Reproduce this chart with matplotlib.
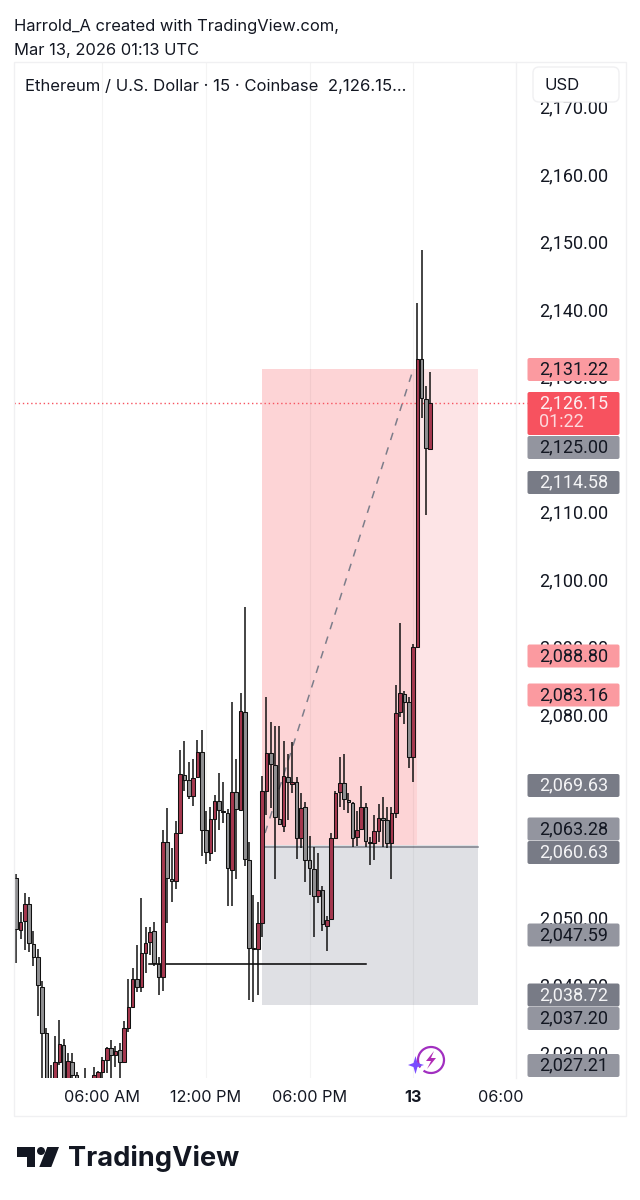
import matplotlib
matplotlib.use('Agg')
import matplotlib.pyplot as plt
from matplotlib.patches import Rectangle, FancyBboxPatch, Circle, Polygon, Arc

plt.rcParams['font.family'] = ['Inter', 'DejaVu Sans']

# bar numbers count 15 min candles back from the 00:00 candle of the 13th
first_bar = -92

opens = [2055.78, 2048.08, 2049.4, 2051.9, 2046.0, 2044.1, 2039.65, 2032.85, 2022.0, 2024.5,
         2028.54, 2031.06, 2024.7, 2028.54, 2026.6, 2025.5, 2024.5, 2025.5, 2025.5, 2026.0,
         2027.06, 2028.84, 2030.6, 2029.58, 2030.3, 2028.54, 2033.58, 2036.7, 2040.8, 2039.65,
         2044.68, 2046.3, 2047.93, 2043.05, 2041.1, 2061.1, 2055.63, 2055.34, 2062.44, 2071.03,
         2070.3, 2067.92, 2070.73, 2074.43, 2062.9, 2059.5, 2064.5, 2067.2, 2065.7, 2065.4,
         2056.96, 2068.5, 2065.85, 2080.35, 2058.45, 2045.42, 2045.3, 2049.12, 2068.66, 2074.28,
         2072.5, 2064.5, 2063.5, 2070.73, 2069.7, 2070.0, 2061.7, 2066.3, 2058.45, 2057.1,
         2053.1, 2054.0, 2048.67, 2049.7, 2061.7, 2068.5, 2069.84, 2067.33, 2066.9, 2061.85,
         2063.03, 2066.3, 2061.1, 2060.96, 2062.74, 2064.66, 2064.36, 2060.96, 2065.4, 2080.35,
         2083.0, 2081.84, 2073.7, 2090.0, 2132.6, 2126.7, 2119.3]
highs = [2056.37, 2050.75, 2053.56, 2052.97, 2047.9, 2045.3, 2040.5, 2033.6, 2028.1, 2032.4,
         2034.76, 2031.95, 2029.9, 2029.9, 2027.06, 2025.8, 2027.65, 2026.0, 2027.8, 2027.2,
         2029.28, 2030.76, 2031.8, 2030.9, 2031.35, 2034.6, 2040.8, 2042.46, 2045.86, 2052.8,
         2048.5, 2048.5, 2049.27, 2044.08, 2062.9, 2066.14, 2060.2, 2064.2, 2074.73, 2076.06,
         2072.95, 2073.4, 2076.2, 2077.7, 2065.7, 2066.3, 2068.05, 2071.3, 2070.0, 2066.0,
         2081.84, 2073.4, 2083.15, 2095.9, 2061.1, 2053.26, 2052.2, 2070.88, 2082.58, 2078.88,
         2078.28, 2078.28, 2076.06, 2074.14, 2075.9, 2070.73, 2068.36, 2067.03, 2062.0, 2060.36,
         2059.5, 2054.6, 2050.15, 2062.44, 2068.66, 2073.7, 2074.14, 2068.36, 2067.03, 2065.7,
         2069.4, 2066.9, 2061.85, 2065.1, 2066.73, 2067.76, 2066.3, 2066.3, 2084.36, 2093.5,
         2083.44, 2082.58, 2090.4, 2140.9, 2148.75, 2128.6, 2130.7]
lows = [2043.2, 2046.75, 2045.1, 2044.8, 2042.75, 2035.35, 2025.1, 2023.5, 2021.0, 2023.0,
        2028.1, 2023.0, 2023.5, 2025.1, 2024.5, 2023.0, 2023.5, 2024.0, 2024.5, 2025.0,
        2025.9, 2026.9, 2026.0, 2027.8, 2026.0, 2028.4, 2033.0, 2036.5, 2038.9, 2038.9,
        2041.7, 2044.4, 2042.75, 2038.46, 2039.05, 2049.12, 2052.2, 2054.16, 2062.3, 2068.66,
        2067.48, 2066.44, 2070.58, 2059.0, 2057.85, 2058.3, 2059.65, 2062.9, 2063.9, 2051.6,
        2051.6, 2055.63, 2065.7, 2057.56, 2037.72, 2037.42, 2038.46, 2047.05, 2065.1, 2066.14,
        2055.63, 2063.6, 2062.6, 2064.36, 2068.36, 2058.6, 2060.2, 2055.2, 2053.26, 2047.05,
        2052.08, 2047.93, 2044.97, 2049.56, 2061.55, 2066.3, 2065.85, 2065.4, 2060.36, 2060.5,
        2062.9, 2060.36, 2057.7, 2058.45, 2061.1, 2060.36, 2060.2, 2055.63, 2064.66, 2079.6,
        2078.6, 2072.07, 2070.0, 2089.9, 2123.9, 2109.5, 2119.3]
closes = [2048.23, 2049.27, 2051.9, 2046.16, 2044.1, 2039.9, 2032.85, 2025.1, 2025.0, 2028.54,
          2031.2, 2024.7, 2028.7, 2026.6, 2026.0, 2024.5, 2025.5, 2024.8, 2026.6, 2027.06,
          2028.84, 2030.6, 2029.58, 2030.17, 2028.54, 2033.58, 2036.7, 2040.8, 2039.65, 2044.68,
          2046.16, 2047.8, 2043.2, 2041.1, 2061.1, 2055.78, 2055.34, 2062.44, 2071.18, 2070.3,
          2067.92, 2070.58, 2074.43, 2062.9, 2059.6, 2064.5, 2067.2, 2065.85, 2065.55, 2057.26,
          2068.5, 2066.0, 2080.5, 2058.6, 2045.42, 2045.3, 2049.12, 2068.66, 2074.28, 2072.65,
          2064.8, 2063.77, 2070.88, 2070.0, 2070.0, 2061.7, 2066.14, 2058.45, 2057.26, 2053.1,
          2054.0, 2048.97, 2049.56, 2061.7, 2068.36, 2069.84, 2067.48, 2067.03, 2061.7, 2062.9,
          2066.3, 2061.26, 2060.96, 2062.74, 2064.66, 2064.36, 2060.96, 2065.4, 2080.2, 2083.15,
          2081.84, 2073.7, 2090.0, 2132.6, 2126.8, 2119.4, 2126.15]

price_ticks = list(range(2030, 2180, 10))
time_ticks = [-72, -48, -24, 0]
time_labels = ['06:00 AM', '12:00 PM', '06:00 PM', '13']

position_top = 2131.1
position_entry = 2060.63
position_stop = 2037.0
last_price = 2126.15

label_texts = ['2,131.22', '2,125.00', '2,114.58', '2,088.80', '2,083.16', '2,069.63', '2,063.28',
               '2,060.63', '2,047.59', '2,038.72', '2,037.20', '2,027.21']
label_kinds = ['pink', 'light', 'dark', 'pink', 'pink', 'dark', 'light',
               'dark', 'light', 'dark', 'light', 'light']
label_centers = [369.5, 447.5, 482.5, 656, 695, 785.5, 829, 852.5, 935, 995, 1018.5, 1065.5]

UP = '#a5384f'
DOWN = '#909092'
INK = '#131722'
PRICE_FONT = 'Roboto'
kind_fill = {'pink': '#fb9aa0', 'light': '#93959f', 'dark': '#787b86'}
kind_text = {'pink': INK, 'light': INK, 'dark': '#f4f4f6'}

fig = plt.figure(figsize=(6.4, 12), dpi=100, facecolor='white')

# main chart, shares its scales with the candles
ax = fig.add_axes([14 / 640, 1 - 1078 / 1200, 502 / 640, 1016 / 1200])
ax.set_xlim(-92.52, 23.88)
ax.set_ylim(2026.17, 2176.58)
for s in ax.spines.values():
    s.set_visible(False)
ax.set_axisbelow(True)

# position tool
left, right, split = -35.1, 15.07, 0.9
ax.add_patch(Rectangle((left, position_entry), split - left, position_top - position_entry,
                       fc='#fdd4d6', ec='none', zorder=1))
ax.add_patch(Rectangle((split, position_entry), right - split, position_top - position_entry,
                       fc='#fde4e6', ec='none', zorder=1))
ax.add_patch(Rectangle((left, position_stop), right - left, position_entry - position_stop,
                       fc='#dfe0e4', ec='none', zorder=1))
ax.plot([left, right], [position_entry - 0.2] * 2, color='#7d7f89', lw=1.1, zorder=1.5)

ax.vlines(time_ticks, 2026.17, 2176.58, color=(0, 0, 0, 0.045), lw=0.8, zorder=1.6)
ax.plot([-34.3, 0], [2062.44, 2131.0], color='#7d7d8a', lw=1.1, dashes=(5, 5), zorder=2)
ax.plot([-61.2, -10.9], [2043.0, 2043.0], color='black', lw=1.1, zorder=2)
ax.plot([0, 1.022], [last_price, last_price], transform=ax.get_yaxis_transform(),
        color='#f7525f', lw=1, ls=(0, (1, 2)), clip_on=False, zorder=2)

# candles
for i in range(len(opens)):
    k = first_bar + i
    ax.vlines(k, lows[i], highs[i], color='#111111', lw=1.1, zorder=3)
    bottom = min(opens[i], closes[i])
    height = abs(closes[i] - opens[i])
    ax.bar(k, height, 0.84, bottom=bottom, color=UP if closes[i] >= opens[i] else DOWN,
           edgecolor='#111111', linewidth=0.75, zorder=4)

ax.yaxis.tick_right()
ax.set_yticks(price_ticks)
ax.set_yticklabels([f'{p:,.2f}' for p in price_ticks], family=PRICE_FONT)
ax.tick_params(axis='y', length=0, pad=16.6, labelsize=13, labelcolor=INK)
ax.set_xticks(time_ticks)
ax.set_xticklabels(time_labels)
ax.tick_params(axis='x', length=0, pad=9, labelsize=11.7, labelcolor=INK)
ax.get_xticklabels()[-1].set_fontweight('bold')

# page furniture on a pixel sized layer over the chart
top = fig.add_axes([0, 0, 1, 1], zorder=5)
top.set_xlim(0, 640)
top.set_ylim(1200, 0)
top.axis('off')
top.patch.set_alpha(0)

top.add_patch(Rectangle((14, 62), 612, 1054, fc='none', ec='#f0f0f2', lw=1))
top.plot([516, 516], [62, 1078], color='#f0f0f2', lw=1)
top.text(14, 26, 'Harrold_A created with TradingView.com,', fontsize=11.9, color=INK, va='center')
top.text(14, 50, 'Mar 13, 2026 01:13 UTC', fontsize=11.9, color=INK, va='center')
top.text(25, 86, 'Ethereum / U.S. Dollar · 15 · Coinbase  2,126.15...', fontsize=12, color=INK, va='center')
top.add_patch(FancyBboxPatch((533, 67), 86, 35, boxstyle='round,pad=0,rounding_size=6',
                             fc='white', ec='#f0f0f2', lw=1))
top.text(544, 85, 'USD', fontsize=12, color=INK, va='center')
top.text(501, 1098, '06:00', fontsize=11.7, color=INK, ha='center', va='center')


def price_box(y0, y1, fill):
    top.add_patch(FancyBboxPatch((527.5, y0), 92, y1 - y0, boxstyle='round,pad=0,rounding_size=2',
                                 fc=fill, ec='none'))


for text, kind, center in zip(label_texts, label_kinds, label_centers):
    price_box(center - 11.5, center + 11.5, kind_fill[kind])
    top.text(539, center, text, fontsize=13, family=PRICE_FONT, color=kind_text[kind], va='center')

price_box(392, 435, '#f7525f')
top.text(539, 403, f'{last_price:,.2f}', fontsize=13, family=PRICE_FONT, color='#fdeef0', va='center')
top.text(539, 422, '01:22', fontsize=13, family=PRICE_FONT, color='#fdd8dc', va='center')

# assistant badge
top.add_patch(Arc((431, 1060), 26, 26, theta1=-215, theta2=125, ec='#a12fc0', lw=1.6))
top.add_patch(Polygon([(434, 1051), (426, 1061), (431, 1061), (427, 1069), (436, 1058), (431, 1058)],
                      fc='#b02bb5', ec='none'))
top.add_patch(Polygon([(415.5, 1056), (417.5, 1063), (424, 1065), (417.5, 1067), (415.5, 1074),
                       (413.5, 1067), (408, 1065), (413.5, 1063)], fc='#7a4dff', ec='none'))

# logo
top.add_patch(Polygon([(16.7, 1147), (34.7, 1147), (34.7, 1167), (26.7, 1167), (26.7, 1157), (16.7, 1157)],
                      fc='#131722', ec='none'))
top.add_patch(Circle((41, 1151), 4, fc='#131722', ec='none'))
top.add_patch(Polygon([(47.3, 1147), (59, 1147), (51.3, 1167), (39.3, 1167)], fc='#131722', ec='none'))
top.text(68, 1159, 'TradingView', fontsize=19.6, fontweight='bold', color='#131722', va='center')

fig.savefig('out.png', dpi=100)
